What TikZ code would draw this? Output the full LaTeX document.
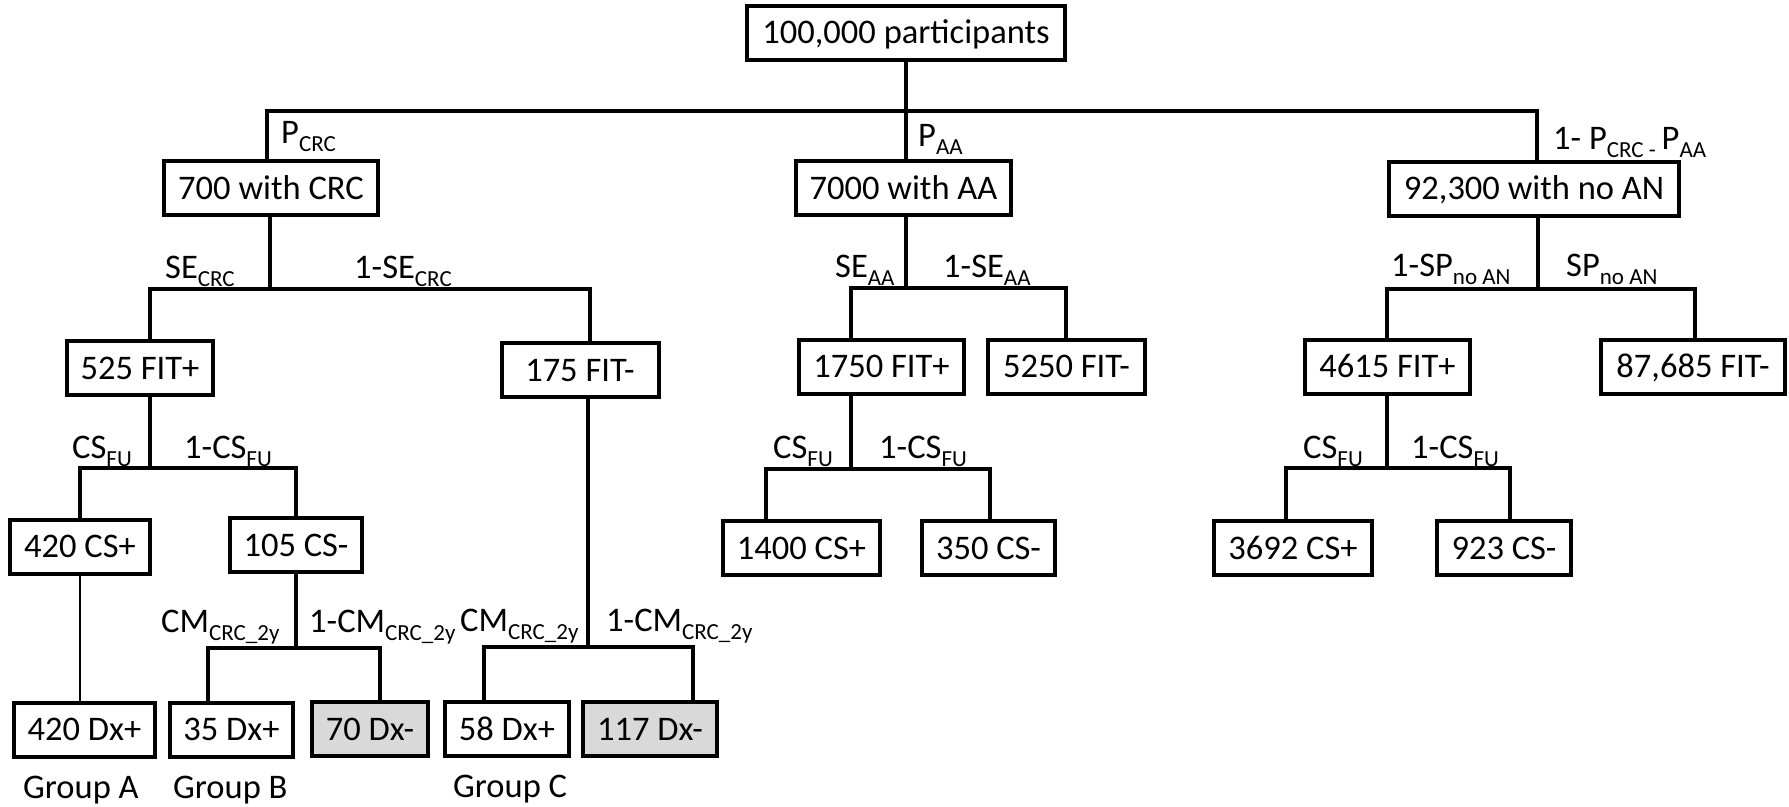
\documentclass[tikz,border=0pt]{standalone}
\usepackage{fontspec}
\setmainfont{Carlito}
\newcommand\sbs[1]{\raisebox{-8.5bp}{\fontsize{23bp}{23bp}\selectfont #1}}
\definecolor{boxgray}{RGB}{217,217,217}
\begin{document}
\begin{tikzpicture}[x=1bp,y=-1bp,
  box/.style={draw, line width=4bp, minimum height=54bp, inner sep=0pt, text height=22bp, text depth=0pt, font=\fontsize{34.5bp}{40bp}\selectfont},
  conn/.style={line width=3.5bp},
  thinconn/.style={line width=2.8bp},
  lbl/.style={anchor=base west, inner sep=0pt, font=\fontsize{34.5bp}{40bp}\selectfont},
  shade/.style={fill=boxgray}]
\useasboundingbox (0,0) rectangle (1789,807);
% boxes
\node[box, minimum width=318bp] (top) at (906,33) {100,000 participants};
\node[box, minimum width=214bp] (crc) at (271,188) {700 with CRC};
\node[box, minimum width=215bp] (aa) at (903.5,188) {7000 with AA};
\node[box, minimum width=290bp] (noan) at (1534,188.5) {92,300 with no AN};
\node[box, minimum width=146bp] (fitp1) at (140,368) {525 FIT+};
\node[box, minimum width=157bp] (fitm1) at (580,370) {175 FIT-};
\node[box, minimum width=165bp] (fitp2) at (881.5,366.5) {1750 FIT+};
\node[box, minimum width=157bp] (fitm2) at (1066.5,366.5) {5250 FIT-};
\node[box, minimum width=165bp] (fitp3) at (1387.5,366.5) {4615 FIT+};
\node[box, minimum width=184bp] (fitm3) at (1693,366.5) {87,685 FIT-};
\node[box, minimum width=140bp] (csp1) at (80,546.5) {420 CS+};
\node[box, minimum width=132bp] (csm1) at (296,545) {105 CS-};
\node[box, minimum width=157bp] (csp2) at (801.5,548) {1400 CS+};
\node[box, minimum width=133bp] (csm2) at (988.5,548) {350 CS-};
\node[box, minimum width=158bp] (csp3) at (1293,548) {3692 CS+};
\node[box, minimum width=134bp] (csm3) at (1504,548) {923 CS-};
\node[box, minimum width=141bp] (dxA) at (84.5,729.5) {420 Dx+};
\node[box, minimum width=123bp] (dxB) at (231.5,729.5) {35 Dx+};
\node[box, shade, minimum width=116bp] (dxBm) at (370,729) {70 Dx-};
\node[box, minimum width=124bp] (dxC) at (507,729) {58 Dx+};
\node[box, shade, minimum width=134bp] (dxCm) at (650,729) {117 Dx-};
% junction coordinates
\coordinate (j0) at (906,111); \coordinate (l0) at (267,111); \coordinate (r0) at (1537,111);
\coordinate (j1) at (270,289); \coordinate (l1) at (150,289); \coordinate (r1) at (590,289);
\coordinate (j2) at (906,288); \coordinate (l2) at (851,288); \coordinate (r2) at (1066,288);
\coordinate (j3) at (1538,289); \coordinate (l3) at (1387,289); \coordinate (r3) at (1695,289);
\coordinate (j4) at (150,468); \coordinate (l4) at (80,468); \coordinate (r4) at (296,468);
\coordinate (j5) at (851,469); \coordinate (l5) at (766,469); \coordinate (r5) at (990,469);
\coordinate (j6) at (1387,468); \coordinate (l6) at (1286,468); \coordinate (r6) at (1510,468);
\coordinate (j7) at (296,648); \coordinate (l7) at (208,648); \coordinate (r7) at (380,648);
\coordinate (j8) at (588,647); \coordinate (l8) at (484,647); \coordinate (r8) at (693,647);
% connectors
\draw[conn] (top.south) -- (j0);
\draw[conn] (l0 |- crc.north) -- (l0) -- (r0) -- (r0 |- noan.north);
\draw[conn] (j0) -- (j0 |- aa.north);
\draw[conn] (crc.south -| j1) -- (j1);
\draw[conn] (l1 |- fitp1.north) -- (l1) -- (r1) -- (r1 |- fitm1.north);
\draw[conn] (aa.south -| j2) -- (j2);
\draw[conn] (l2 |- fitp2.north) -- (l2) -- (r2) -- (r2 |- fitm2.north);
\draw[conn] (noan.south -| j3) -- (j3);
\draw[conn] (l3 |- fitp3.north) -- (l3) -- (r3) -- (r3 |- fitm3.north);
\draw[conn] (fitp1.south -| j4) -- (j4);
\draw[conn] (l4 |- csp1.north) -- (l4) -- (r4) -- (r4 |- csm1.north);
\draw[conn] (fitp2.south -| j5) -- (j5);
\draw[conn] (l5 |- csp2.north) -- (l5) -- (r5) -- (r5 |- csm2.north);
\draw[conn] (fitp3.south -| j6) -- (j6);
\draw[conn] (l6 |- csp3.north) -- (l6) -- (r6) -- (r6 |- csm3.north);
\draw[conn] (csm1.south -| j7) -- (j7);
\draw[conn] (l7 |- dxB.north) -- (l7) -- (r7) -- (r7 |- dxBm.north);
\draw[conn] (fitm1.south -| j8) -- (j8);
\draw[conn] (l8 |- dxC.north) -- (l8) -- (r8) -- (r8 |- dxCm.north);
\draw[thinconn] (csp1.south) -- (csp1.south |- dxA.north);
% labels
\node[lbl] (lPcrc) at (281,143) {P\sbs{CRC}};
\node[lbl] (lPaa) at (918,146) {P\sbs{AA}};
\node[lbl] (lPno) at (1553,149) {1- P\sbs{CRC -}\,P\sbs{AA}};
\node[lbl] (lSEcrc) at (165,278) {SE\sbs{CRC}};
\node[lbl] (l1SEcrc) at (354,278) {1-SE\sbs{CRC}};
\node[lbl] (lSEaa) at (835,277) {SE\sbs{AA}};
\node[lbl] (l1SEaa) at (943,277) {1-SE\sbs{AA}};
\node[lbl] (l1SP) at (1391,276) {1-SP\sbs{no AN}};
\node[lbl] (lSP) at (1566,276) {SP\sbs{no AN}};
\node[lbl] (lCS1) at (72,458) {CS\sbs{FU}};
\node[lbl] (l1CS1) at (184,458) {1-CS\sbs{FU}};
\node[lbl] (lCS2) at (773,458) {CS\sbs{FU}};
\node[lbl] (l1CS2) at (879,458) {1-CS\sbs{FU}};
\node[lbl] (lCS3) at (1303,458) {CS\sbs{FU}};
\node[lbl] (l1CS3) at (1411,458) {1-CS\sbs{FU}};
\node[lbl] (lCM1) at (161,632) {CM\sbs{CRC\_2y}};
\node[lbl] (l1CM1) at (309,632) {1-CM\sbs{CRC\_2y}};
\node[lbl] (lCM2) at (460,631) {CM\sbs{CRC\_2y}};
\node[lbl] (l1CM2) at (606,631) {1-CM\sbs{CRC\_2y}};
\node[lbl] (gA) at (23,798) {Group A};
\node[lbl] (gB) at (173,798) {Group B};
\node[lbl] (gC) at (453,797) {Group C};
\end{tikzpicture}
\end{document}
